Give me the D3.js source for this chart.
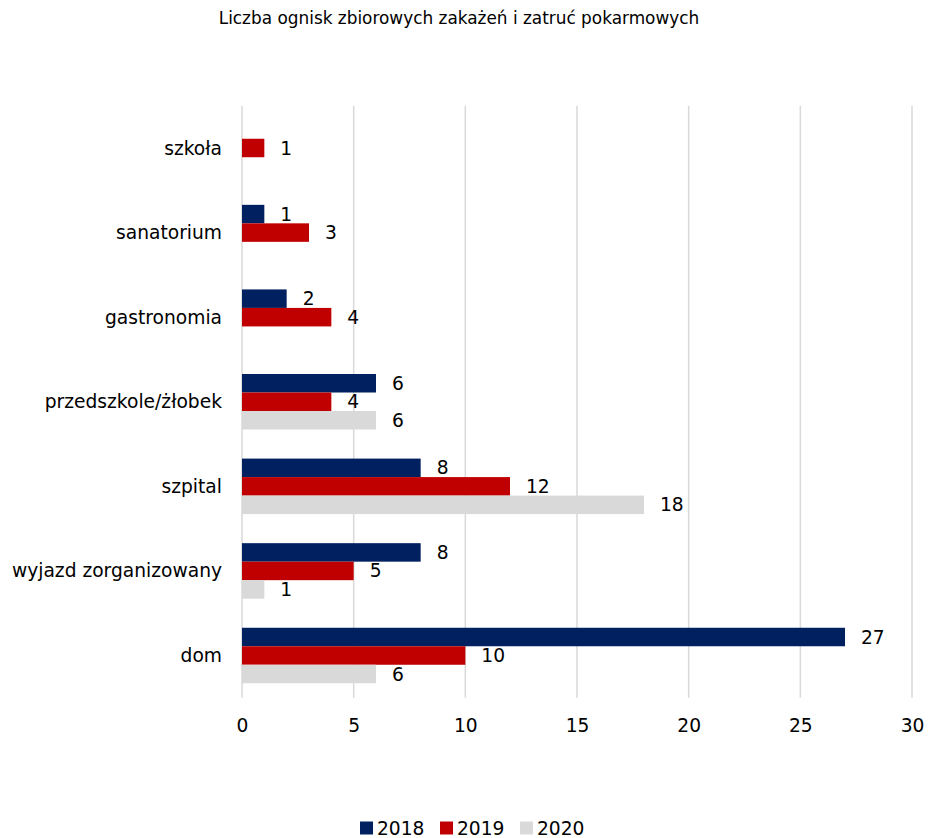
<!DOCTYPE html>
<html lang="pl">
<head>
<meta charset="utf-8">
<script src="https://cdn.jsdelivr.net/npm/d3@7"></script>
<style>
  html, body { margin: 0; padding: 0; background: #fff; }
  svg { display: block; }
  text { font-family: Tahoma, "DejaVu Sans", sans-serif; fill: #000; }
</style>
</head>
<body>
<svg id="chart" width="928" height="838"></svg>
<script>
// Categories, listed top to bottom
const categories = ["szkoła", "sanatorium", "gastronomia", "przedszkole/żłobek", "szpital", "wyjazd zorganizowany", "dom"];
const years = ["2018", "2019", "2020"];
// Outbreak counts per category (null = no outbreaks recorded)
const values2018 = [null, 1, 2, 6, 8, 8, 27];
const values2019 = [1, 3, 4, 4, 12, 5, 10];
const values2020 = [null, null, null, 6, 18, 1, 6];
const xTicks = [0, 5, 10, 15, 20, 25, 30];
const colors = ["#002060", "#C00000", "#D9D9D9"];
const title = "Liczba ognisk zbiorowych zakażeń i zatruć pokarmowych";

const seriesValues = [values2018, values2019, values2020];
const rows = categories.map((c, i) => ({
  category: c,
  items: years.map((y, j) => ({ year: y, value: seriesValues[j][i] }))
}));

const svg = d3.select("#chart");
const plot = { left: 242, right: 912, top: 105.7, bottom: 697.8 };
const labelSize = "18.67px";

const x = d3.scaleLinear().domain([0, 30]).range([plot.left, plot.right]);
const y = d3.scaleBand().domain(categories).range([plot.top, plot.bottom])
  .paddingInner(0.344).paddingOuter(0.172);
const ySub = d3.scaleBand().domain(years).range([0, y.bandwidth()]);
const color = d3.scaleOrdinal().domain(years).range(colors);

// Title
svg.append("text")
  .attr("x", 459).attr("y", 18)
  .attr("text-anchor", "middle").attr("dominant-baseline", "central")
  .style("font-size", "16.9px")
  .text(title);

// Vertical gridlines
svg.append("g").selectAll("line").data(xTicks).join("line")
  .attr("x1", d => x(d)).attr("x2", d => x(d))
  .attr("y1", plot.top).attr("y2", plot.bottom)
  .attr("stroke", "#D9D9D9").attr("stroke-width", 1.5);

// X axis tick labels
const xAxis = d3.axisBottom(x).tickValues(xTicks).tickSize(0).tickPadding(0);
const gx = svg.append("g").attr("transform", `translate(0,${plot.bottom})`).call(xAxis);
gx.select(".domain").remove();
gx.selectAll("text")
  .attr("y", 28).attr("dy", "0.35em")
  .style("font-size", labelSize)
  .style("font-family", null);

// Y axis category labels
const yAxis = d3.axisLeft(y).tickSize(0).tickPadding(0);
const gy = svg.append("g").attr("transform", `translate(${plot.left - 20},0)`).call(yAxis);
gy.select(".domain").remove();
gy.selectAll("text")
  .attr("dy", "0.35em")
  .style("font-size", labelSize)
  .style("font-family", null);

// Bars
const groups = svg.append("g").selectAll("g").data(rows).join("g")
  .attr("transform", d => `translate(0,${y(d.category)})`);

groups.selectAll("rect").data(d => d.items.filter(e => e.value != null)).join("rect")
  .attr("x", x(0))
  .attr("y", d => ySub(d.year))
  .attr("width", d => x(d.value) - x(0))
  .attr("height", ySub.bandwidth())
  .attr("fill", d => color(d.year));

// Value labels
groups.selectAll("text.val").data(d => d.items.filter(e => e.value != null)).join("text")
  .attr("class", "val")
  .attr("x", d => x(d.value) + 16)
  .attr("y", d => ySub(d.year) + ySub.bandwidth() / 2)
  .attr("dy", "0.35em")
  .style("font-size", labelSize)
  .text(d => d.value);

// Legend
const legend = svg.append("g").attr("transform", "translate(360,828)");
const legendX = [0, 80, 160];
years.forEach((yr, i) => {
  const g = legend.append("g").attr("transform", `translate(${legendX[i]},0)`);
  g.append("rect").attr("x", 0).attr("y", -6.5).attr("width", 13).attr("height", 13).attr("fill", color(yr));
  g.append("text").attr("x", 17).attr("y", 0).attr("dy", "0.35em")
    .style("font-size", labelSize).text(yr);
});
</script>
</body>
</html>
